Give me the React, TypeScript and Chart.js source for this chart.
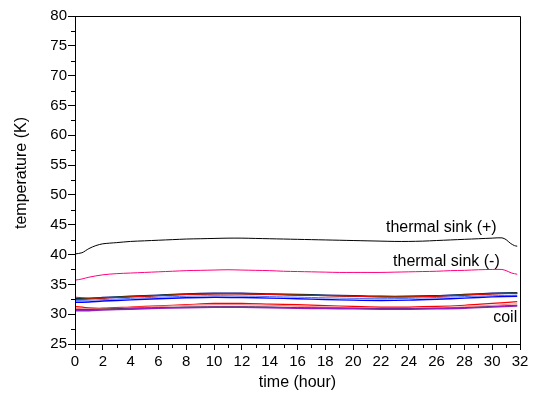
import React, { useEffect, useRef } from "react";
import { Chart, registerables } from "chart.js";

Chart.register(...registerables);

const sinkPlusTime = [0, 0.5, 1, 1.5, 2, 3, 4, 5, 6, 7, 8, 9, 10, 11, 12, 13, 14, 15, 16, 17, 18, 19, 20, 21, 22, 23, 24, 25, 26, 27, 28, 29, 30, 30.7, 31, 31.3, 31.6, 31.8];
const sinkPlusTemp = [40.1, 40.3, 41.0, 41.5, 41.8, 42.0, 42.2, 42.3, 42.4, 42.5, 42.6, 42.65, 42.7, 42.75, 42.75, 42.7, 42.65, 42.6, 42.55, 42.5, 42.45, 42.4, 42.35, 42.3, 42.25, 42.2, 42.2, 42.25, 42.35, 42.45, 42.55, 42.65, 42.75, 42.8, 42.5, 41.9, 41.5, 41.4];

const sinkMinusTime = [0, 0.5, 1, 2, 3, 4, 5, 6, 7, 8, 9, 10, 11, 12, 13, 14, 15, 16, 17, 18, 19, 20, 21, 22, 23, 24, 25, 26, 27, 28, 29, 30, 30.7, 31, 31.4, 31.8];
const sinkMinusTemp = [35.7, 35.9, 36.2, 36.6, 36.8, 36.9, 37.0, 37.1, 37.2, 37.3, 37.35, 37.4, 37.45, 37.4, 37.35, 37.3, 37.2, 37.15, 37.1, 37.05, 37.0, 37.0, 37.0, 37.0, 37.05, 37.1, 37.15, 37.2, 37.3, 37.35, 37.45, 37.5, 37.5, 37.3, 36.9, 36.7];

const coilTime = [0, 1, 2, 4, 6, 8, 10, 12, 14, 16, 18, 20, 22, 24, 26, 28, 30, 31.8];
const coilNavy = [32.6, 32.65, 32.8, 33.0, 33.2, 33.4, 33.5, 33.5, 33.4, 33.3, 33.2, 33.1, 33.0, 33.0, 33.1, 33.3, 33.5, 33.6];
const coilGreen = [32.5, 32.6, 32.75, 32.95, 33.15, 33.35, 33.45, 33.45, 33.35, 33.25, 33.15, 33.05, 32.95, 32.95, 33.05, 33.25, 33.45, 33.55];
const coilRedTop = [32.85, 32.7, 32.7, 32.9, 33.1, 33.3, 33.4, 33.4, 33.3, 33.2, 33.1, 33.0, 32.9, 32.9, 33.0, 33.2, 33.4, 33.5];
const coilBlack = [32.5, 32.55, 32.7, 32.9, 33.1, 33.3, 33.4, 33.4, 33.3, 33.2, 33.1, 33.0, 32.9, 32.9, 33.0, 33.2, 33.4, 33.5];
const coilBlue = [32.0, 32.05, 32.2, 32.4, 32.6, 32.75, 32.85, 32.8, 32.7, 32.6, 32.45, 32.35, 32.3, 32.35, 32.5, 32.7, 32.9, 33.0];
const coilBlueLight = [32.3, 32.35, 32.45, 32.65, 32.85, 33.0, 33.1, 33.05, 32.95, 32.85, 32.75, 32.65, 32.6, 32.65, 32.8, 32.95, 33.1, 33.2];
const coilRed = [31.3, 31.05, 31.0, 31.2, 31.4, 31.6, 31.8, 31.8, 31.7, 31.6, 31.45, 31.3, 31.2, 31.2, 31.3, 31.5, 31.8, 32.1];
const coilSalmon = [31.0, 30.85, 30.9, 31.1, 31.3, 31.5, 31.6, 31.6, 31.5, 31.35, 31.2, 31.05, 30.95, 30.95, 31.05, 31.25, 31.5, 31.75];
const coilBlackLow = [30.8, 30.8, 30.85, 31.0, 31.1, 31.2, 31.25, 31.25, 31.2, 31.1, 31.05, 31.0, 30.95, 30.95, 31.0, 31.1, 31.3, 31.5];
const coilPurple = [30.6, 30.6, 30.7, 30.85, 31.0, 31.1, 31.15, 31.15, 31.1, 31.0, 30.95, 30.9, 30.85, 30.85, 30.9, 31.0, 31.2, 31.4];

const xTickLabels = ["0", "2", "4", "6", "8", "10", "12", "14", "16", "18", "20", "22", "24", "26", "28", "30", "32"];
const yTickLabels = ["25", "30", "35", "40", "45", "50", "55", "60", "65", "70", "75", "80"];

const FONT = "'Liberation Sans', Arial, sans-serif";

function pts(t: number[], v: number[]) {
  return t.map((x, i) => ({ x, y: v[i] }));
}

const framePlugin = {
  id: "frame",
  afterDraw(chart: any) {
    const { ctx, chartArea: a, scales } = chart;
    const xs = scales.x;
    const ys = scales.y;
    ctx.save();
    ctx.strokeStyle = "#000";
    ctx.lineWidth = 1;
    ctx.beginPath();
    ctx.rect(Math.round(a.left) + 0.5, Math.round(a.top) + 0.5, Math.round(a.right - a.left), Math.round(a.bottom - a.top));
    ctx.stroke();
    // minor ticks
    ctx.beginPath();
    for (let h = 1; h < 32; h += 2) {
      const px = Math.round(xs.getPixelForValue(h)) + 0.5;
      ctx.moveTo(px, a.bottom);
      ctx.lineTo(px, a.bottom + 4);
    }
    for (let v = 27.5; v < 80; v += 5) {
      const py = Math.round(ys.getPixelForValue(v)) + 0.5;
      ctx.moveTo(a.left - 4, py);
      ctx.lineTo(a.left, py);
    }
    ctx.stroke();
    // annotations
    ctx.fillStyle = "#000";
    ctx.font = `16px ${FONT}`;
    ctx.textBaseline = "middle";
    ctx.textAlign = "left";
    ctx.fillText("thermal sink (+)", xs.getPixelForValue(22.36), ys.getPixelForValue(44.6));
    ctx.fillText("thermal sink (-)", xs.getPixelForValue(22.87), ys.getPixelForValue(38.9));
    ctx.textAlign = "right";
    ctx.fillText("coil", xs.getPixelForValue(31.8), ys.getPixelForValue(29.4));
    // axis titles
    ctx.textAlign = "center";
    ctx.fillText("time (hour)", (a.left + a.right) / 2, 383);
    ctx.translate(22, 173);
    ctx.rotate(-Math.PI / 2);
    ctx.fillText("temperature (K)", 0, 0);
    ctx.restore();
  },
};

export default function App() {
  const ref = useRef<HTMLCanvasElement>(null);
  useEffect(() => {
    if (!ref.current) return;
    const line = (data: any[], color: string, w = 1) => ({
      data,
      borderColor: color,
      backgroundColor: color,
      borderWidth: w,
      pointRadius: 0,
      tension: 0.3,
      fill: false,
    });
    const chart = new Chart(ref.current, {
      type: "line",
      data: {
        datasets: [
          line(pts(coilTime, coilPurple), "#9020c0", 1.6),
          line(pts(coilTime, coilBlackLow), "#303030", 1),
          line(pts(coilTime, coilSalmon), "#ff8888", 1.2),
          line(pts(coilTime, coilRed), "#ff0000", 1.2),
          line(pts(coilTime, coilBlue), "#0000ff", 1.4),
          line(pts(coilTime, coilBlueLight), "#5070ff", 1),
          line(pts(coilTime, coilRedTop), "#ff0000", 1),
          line(pts(coilTime, coilGreen), "#008000", 1),
          line(pts(coilTime, coilBlack), "#000000", 1),
          line(pts(coilTime, coilNavy), "#000080", 1.4),
          line(pts(sinkMinusTime, sinkMinusTemp), "#ff0080", 1),
          line(pts(sinkPlusTime, sinkPlusTemp), "#000000", 1),
        ],
      },
      options: {
        animation: false,
        responsive: false,
        maintainAspectRatio: false,
        layout: { padding: { left: 0, top: 16, right: 13, bottom: 0 } },
        plugins: { legend: { display: false }, tooltip: { enabled: false } },
        scales: {
          x: {
            type: "linear",
            min: 0,
            max: 32,
            afterFit: (s: any) => { s.height = 52; },
            afterBuildTicks: (s: any) => {
              s.ticks = xTickLabels.map((l) => ({ value: Number(l) }));
            },
            ticks: {
              autoSkip: false,
              maxRotation: 0,
              padding: 3,
              color: "#000",
              font: { family: FONT, size: 15 },
              callback: (v: any) => xTickLabels.find((l) => Number(l) === v) ?? "",
            },
            grid: { drawOnChartArea: false, tickLength: 6, color: "#000", tickColor: "#000" },
            border: { color: "#000", width: 1 },
          },
          y: {
            type: "linear",
            min: 25,
            max: 80,
            afterFit: (s: any) => { s.width = 75; },
            afterBuildTicks: (s: any) => {
              s.ticks = yTickLabels.map((l) => ({ value: Number(l) }));
            },
            ticks: {
              autoSkip: false,
              padding: 1,
              color: "#000",
              font: { family: FONT, size: 15 },
              callback: (v: any) => yTickLabels.find((l) => Number(l) === v) ?? "",
            },
            grid: { drawOnChartArea: false, tickLength: 7, color: "#000", tickColor: "#000" },
            border: { color: "#000", width: 1 },
          },
        },
      },
      plugins: [framePlugin],
    } as any);
    return () => chart.destroy();
  }, []);
  return (
    <div style={{ position: "fixed", left: 0, top: 0, width: 533, height: 396, background: "#fff" }}>
      <canvas ref={ref} width={533} height={396} style={{ width: 533, height: 396, display: "block" }} />
    </div>
  );
}
